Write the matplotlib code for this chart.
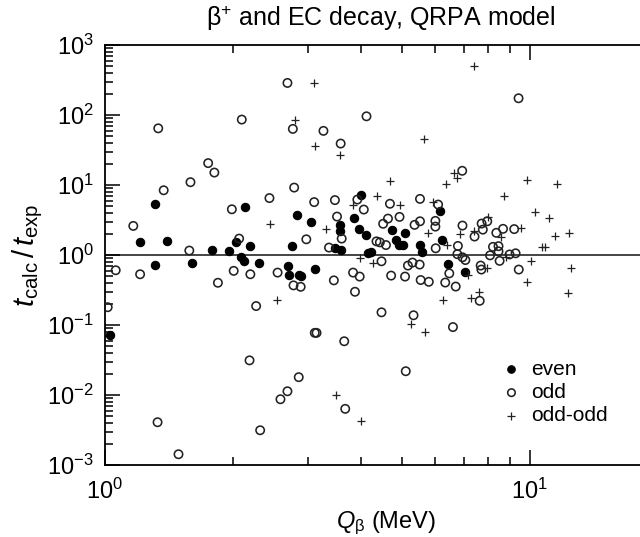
import matplotlib
matplotlib.use("Agg")
import matplotlib.pyplot as plt
from matplotlib.ticker import LogLocator, LogFormatterMathtext, NullFormatter

plt.rcParams['font.family'] = ['Liberation Sans', 'DejaVu Sans']
plt.rcParams['mathtext.fontset'] = 'custom'
plt.rcParams['mathtext.rm'] = 'Liberation Sans'
plt.rcParams['mathtext.it'] = 'Liberation Sans:italic'
plt.rcParams['mathtext.bf'] = 'Liberation Sans:bold'

# ---- data: Q_beta (MeV) and t_calc/t_exp ----
even_q = [1.309, 2.14, 2.83, 3.05, 4.00, 3.86, 3.57, 3.57, 3.97, 1.212, 1.397, 1.79, 1.96,
          2.03, 2.19, 2.09, 2.12, 2.30, 1.31, 1.60, 2.75, 2.70, 2.72, 2.87, 1.027, 4.11,
          4.17, 3.48, 3.60, 3.13, 2.90, 6.15, 4.75, 5.10, 6.23, 4.23, 4.85, 4.92, 5.03,
          5.51, 5.59, 6.41, 7.06]
even_r = [5.44, 4.88, 3.79, 2.98, 7.20, 3.40, 2.73, 2.24, 2.39, 1.53, 1.60, 1.18, 1.13,
          1.52, 1.34, 0.936, 0.82, 0.78, 0.724, 0.78, 1.34, 0.708, 0.518, 0.513, 0.0715,
          1.92, 1.075, 1.27, 1.18, 0.627, 0.498, 4.32, 2.25, 2.05, 1.64, 1.09, 1.65, 1.39,
          1.39, 1.41, 1.09, 0.748, 0.566]

odd_q = [2.69, 1.335, 2.10, 2.77, 3.27, 3.59, 4.13, 1.75, 1.81, 1.59, 1.375, 2.79, 2.44,
         3.11, 3.48, 1.99, 1.166, 3.52, 4.07, 3.93, 2.07, 1.58, 1.06, 1.21, 1.845, 2.01,
         2.20, 2.55, 2.78, 2.89, 2.27, 1.015, 2.98, 3.37, 3.61, 3.84, 3.98, 3.46, 3.88,
         3.12, 3.15, 3.66, 2.19, 2.86, 2.69, 2.59, 1.33, 2.32, 3.68, 1.49, 5.11, 9.42,
         6.94, 4.69, 5.52, 6.09, 4.52, 4.64, 4.94, 5.36, 5.52, 6.00, 6.00, 6.95, 7.71,
         7.95, 7.76, 8.66, 8.35, 9.20, 7.42, 4.36, 4.44, 4.59, 4.48, 4.72, 5.09, 5.17,
         5.30, 5.51, 5.54, 5.79, 6.01, 6.33, 6.47, 6.70, 6.78, 6.76, 6.95, 7.06, 7.67,
         7.70, 8.07, 8.20, 8.45, 8.45, 8.50, 8.97, 9.27, 9.43, 7.63, 4.48, 5.33, 6.60]
odd_r = [288, 64.7, 86.3, 63.5, 59.5, 39.2, 96.1, 20.6, 15.1, 11.0, 8.43, 9.21, 6.52,
         5.71, 6.10, 4.51, 2.61, 3.55, 4.47, 6.21, 1.72, 1.16, 0.607, 0.532, 0.402, 0.595,
         0.532, 0.562, 0.369, 0.352, 0.187, 0.180, 1.68, 1.28, 1.72, 0.562, 0.493, 0.435,
         0.299, 0.0774, 0.0774, 0.0587, 0.0313, 0.0180, 0.01133, 0.00871, 0.00409, 0.00314,
         0.00635, 0.001426, 0.0219, 174, 16.0, 5.41, 6.35, 5.27, 2.80, 3.32, 3.51, 2.70,
         3.04, 3.08, 2.55, 2.64, 2.82, 3.04, 2.31, 2.37, 2.08, 2.35, 1.84, 1.57, 1.52, 1.39,
         0.815, 0.509, 0.493, 0.708, 0.781, 0.732, 0.44, 0.415, 1.25, 0.405, 0.548, 0.355,
         1.35, 1.03, 0.93, 0.849, 0.708, 0.621, 0.99, 1.31, 1.34, 1.13, 0.826, 1.02, 1.06,
         0.621, 0.222, 0.152, 0.138, 0.0936]

oo_q = [3.11, 2.80, 3.12, 3.57, 2.45, 3.31, 3.83, 2.54, 3.98, 3.50, 4.00, 7.41, 5.63,
        4.70, 6.63, 6.75, 6.35, 9.86, 11.6, 8.72, 4.37, 4.94, 5.91, 5.78, 6.86, 7.98, 7.40,
        9.56, 10.3, 11.1, 11.5, 12.4, 8.55, 10.7, 10.9, 10.1, 12.5, 9.86, 12.3, 8.78, 6.40,
        4.27, 7.16, 7.96, 6.25, 7.28, 7.61, 5.27, 5.66]
oo_r = [285, 86.3, 36.1, 27.1, 2.80, 2.35, 5.18, 0.231, 0.912, 0.00994, 0.00423, 498, 45.1,
        11.5, 14.9, 12.7, 10.3, 11.8, 10.5, 6.96, 7.01, 5.27, 5.81, 2.06, 1.98, 3.51, 2.19,
        2.41, 4.11, 3.38, 1.89, 2.10, 1.81, 1.31, 1.31, 0.834, 0.663, 0.415, 0.289, 0.952,
        1.41, 0.764, 0.527, 0.657, 0.231, 0.245, 0.294, 0.105, 0.0789]

title = 'β$^{+}$ and EC decay, QRPA model'
xlabel = r'$Q_{\mathrm{β}}$ (MeV)'
ylabel = r'$t_{\rm calc}\,/\,t_{\rm exp}$'
labels = ['even', 'odd', 'odd-odd']

fig = plt.figure(figsize=(6.4, 5.37), dpi=100)
ax = fig.add_axes([0.164, 0.134, 0.836, 0.782])
ax.set_xscale('log')
ax.set_yscale('log')
ax.set_xlim(1, 18.2)
ax.set_ylim(1e-3, 1e3)

ax.axhline(1.0, color='#444444', lw=1.4, zorder=1)

h1 = ax.scatter(even_q, even_r, s=36, marker='o', facecolor='black', edgecolor='black',
                linewidths=0.8, zorder=3, label=labels[0])
h2 = ax.scatter(odd_q, odd_r, s=36, marker='o', facecolor='none', edgecolor='#222222',
                linewidths=1.15, zorder=3, label=labels[1])
h3 = ax.scatter(oo_q, oo_r, s=38, marker='+', color='#222222', linewidths=0.9, zorder=3,
                label=labels[2])

for side in ['left', 'bottom', 'top']:
    ax.spines[side].set_linewidth(1.3)
ax.spines['right'].set_visible(False)

ax.xaxis.set_major_locator(LogLocator(base=10, numticks=10))
ax.xaxis.set_minor_locator(LogLocator(base=10, subs=range(2, 10), numticks=20))
ax.yaxis.set_major_locator(LogLocator(base=10, numticks=10))
ax.yaxis.set_minor_locator(LogLocator(base=10, subs=range(2, 10), numticks=20))
ax.xaxis.set_major_formatter(LogFormatterMathtext())
ax.yaxis.set_major_formatter(LogFormatterMathtext())
ax.xaxis.set_minor_formatter(NullFormatter())
ax.yaxis.set_minor_formatter(NullFormatter())

ax.tick_params(which='both', direction='in', top=True, right=False, labelsize=17, width=1.1)
ax.tick_params(which='major', length=11, pad=8)
ax.tick_params(axis='x', which='major', pad=10)
ax.tick_params(which='minor', length=6)

ax.set_xlabel(xlabel, fontsize=17, labelpad=2)
ax.xaxis.set_label_coords(0.525, -0.105)
ax.set_ylabel(ylabel, fontsize=21, labelpad=2)
ax.set_title(title, fontsize=18, pad=14, x=0.515)

leg = ax.legend(handles=[h1, h2, h3], loc='lower right', bbox_to_anchor=(0.975, 0.05),
                frameon=False, fontsize=15, handletextpad=0.45, labelspacing=0.2,
                markerscale=0.9, handlelength=1.0)

fig.savefig('out.png', dpi=100)
